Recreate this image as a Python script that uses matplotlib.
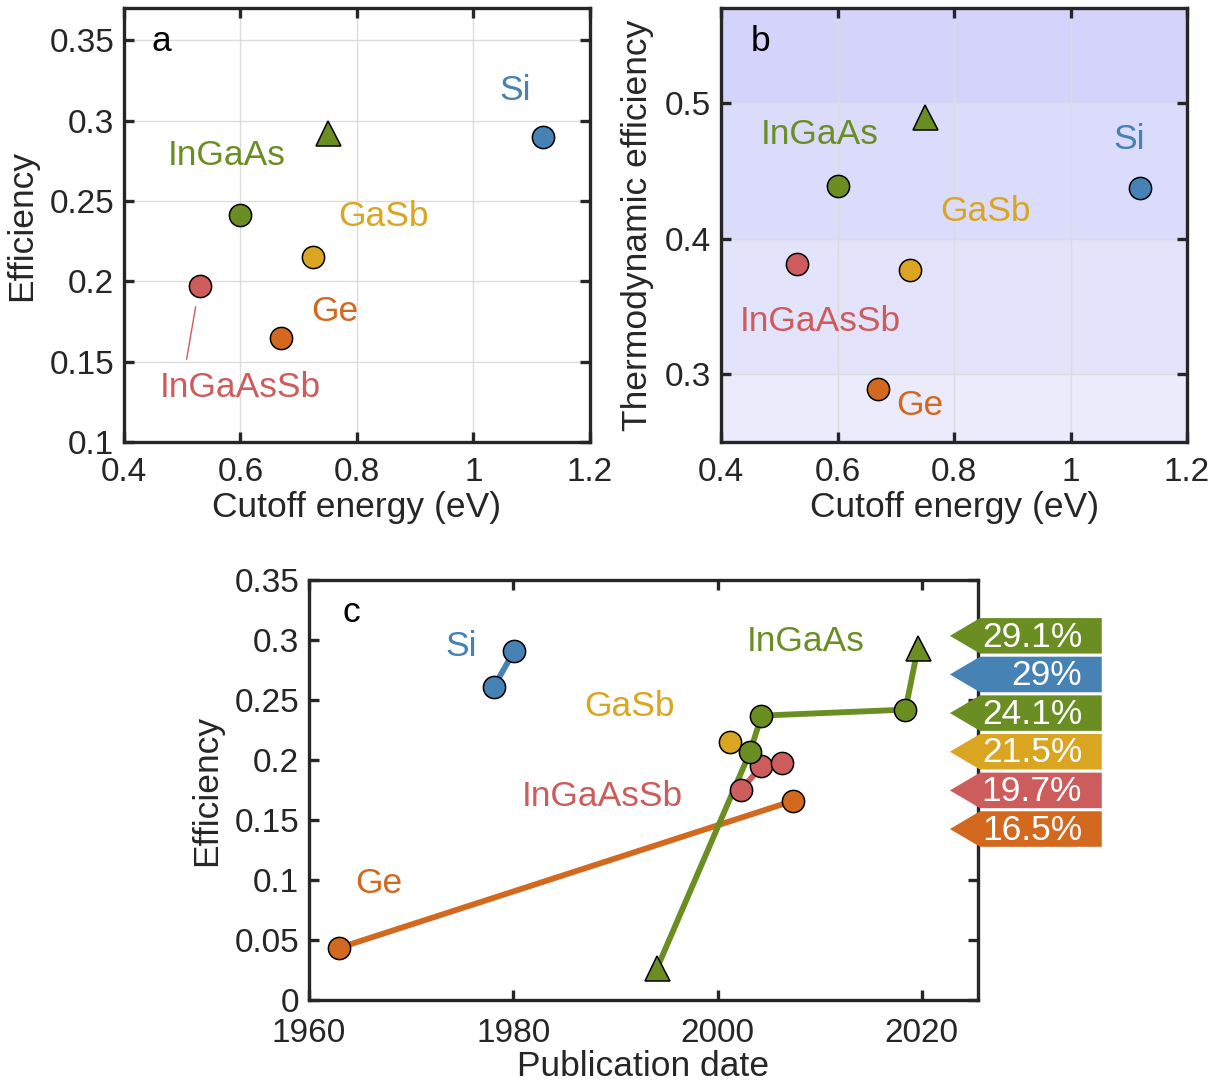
import matplotlib
matplotlib.use("Agg")
import matplotlib.pyplot as plt
import matplotlib.transforms as mtransforms

plt.rcParams['font.family'] = ['Liberation Sans', 'DejaVu Sans']

# colours
GREEN = '#6b8e23'
BLUE = '#4682b4'
GOLD = '#daa520'
PINK = '#cd5c5c'
ORANGE = '#d2691e'

# panel a / b : cutoff energy (eV)
cutoff_ingaas_c = 0.60
cutoff_ingaas_t = 0.75
cutoff_si = 1.12
cutoff_gasb = 0.725
cutoff_ingaassb = 0.53
cutoff_ge = 0.67

# panel a : efficiency
eff_a_ingaas_c = 0.241
eff_a_ingaas_t = 0.292
eff_a_si = 0.290
eff_a_gasb = 0.215
eff_a_ingaassb = 0.197
eff_a_ge = 0.165

# panel b : thermodynamic efficiency
eff_b_ingaas_c = 0.439
eff_b_ingaas_t = 0.490
eff_b_si = 0.437
eff_b_gasb = 0.377
eff_b_ingaassb = 0.381
eff_b_ge = 0.289

# panel c : publication date vs efficiency
si_year = [1978.1, 1980.1]
si_eff = [0.261, 0.291]
gasb_year = [2001.2]
gasb_eff = [0.215]
ingaas_year = [1994.1, 2003.2, 2004.3, 2018.4, 2019.6]
ingaas_eff = [0.027, 0.207, 0.237, 0.242, 0.293]
ingaassb_year = [2002.3, 2004.3, 2006.3]
ingaassb_eff = [0.175, 0.195, 0.1975]
ge_year = [1962.9, 2007.4]
ge_eff = [0.0433, 0.166]

# record tags on the right of panel c
tag_values = [29.1, 29, 24.1, 21.5, 19.7, 16.5]
tag_colors = [GREEN, BLUE, GREEN, GOLD, PINK, ORANGE]

TICK_FS = 24
AXLABEL_FS = 25.5
LABEL_FS = 25.5
MS = 16


def style_axes(ax, grid=True, xpad=11):
    for s in ax.spines.values():
        s.set_linewidth(2.4)
        s.set_color('#262626')
    ax.tick_params(direction='in', length=7, width=2.4, labelsize=TICK_FS,
                   top=True, right=True, color='#262626', labelcolor='#262626')
    ax.tick_params(axis='x', pad=xpad)
    ax.tick_params(axis='y', pad=7)
    if grid:
        ax.grid(True, color='#dcdcdc', linewidth=1.0)
        ax.set_axisbelow(True)


def circle(ax, x, y, c):
    ax.plot(x, y, 'o', ms=MS, mfc=c, mec='black', mew=1.1, zorder=4)


def tri(ax, x, y, c):
    ax.plot(x, y, '^', ms=MS + 2, mfc=c, mec='black', mew=1.1, zorder=4)


def label(ax, x, y, s, c):
    ax.text(x, y, s, color=c, fontsize=LABEL_FS, ha='center', va='center')


fig = plt.figure(figsize=(12.14, 10.87), dpi=100)

# ---------------- panel a ----------------
ax1 = fig.add_axes([0.1021, 0.5934, 0.3839, 0.3992])
style_axes(ax1)
ax1.plot([0.523, 0.5076], [0.184, 0.1516], color=PINK, lw=1.0)
circle(ax1, cutoff_ingaassb, eff_a_ingaassb, PINK)
circle(ax1, cutoff_ingaas_c, eff_a_ingaas_c, GREEN)
circle(ax1, cutoff_ge, eff_a_ge, ORANGE)
circle(ax1, cutoff_gasb, eff_a_gasb, GOLD)
tri(ax1, cutoff_ingaas_t, eff_a_ingaas_t, GREEN)
circle(ax1, cutoff_si, eff_a_si, BLUE)
label(ax1, 1.071, 0.319, 'Si', BLUE)
label(ax1, 0.577, 0.278, 'InGaAs', GREEN)
label(ax1, 0.846, 0.240, 'GaSb', GOLD)
label(ax1, 0.762, 0.181, 'Ge', ORANGE)
label(ax1, 0.599, 0.1336, 'InGaAsSb', PINK)
label(ax1, 0.465, 0.349, 'a', 'black')
ax1.set_xlim(0.4, 1.2)
ax1.set_ylim(0.1, 0.37)
ax1.set_xticks([0.4, 0.6, 0.8, 1.0, 1.2])
ax1.set_xticklabels(['0.4', '0.6', '0.8', '1', '1.2'])
ax1.set_yticks([0.1, 0.15, 0.2, 0.25, 0.3, 0.35])
ax1.set_yticklabels(['0.1', '0.15', '0.2', '0.25', '0.3', '0.35'])
ax1.set_xlabel('Cutoff energy (eV)', fontsize=AXLABEL_FS, color='#262626', labelpad=2)
ax1.set_ylabel('Efficiency', fontsize=AXLABEL_FS, color='#262626', labelpad=8)

# ---------------- panel b ----------------
ax2 = fig.add_axes([0.594, 0.5934, 0.3838, 0.3992])
style_axes(ax2)
band_edges = [0.25, 0.3, 0.4, 0.5, 0.57]
band_colors = ['#ebebfc', '#e3e3fc', '#dbdbfc', '#d3d3fc']
for lo, hi, bc in zip(band_edges[:-1], band_edges[1:], band_colors):
    ax2.axhspan(lo, hi, color=bc, lw=0, zorder=0)
circle(ax2, cutoff_ingaassb, eff_b_ingaassb, PINK)
circle(ax2, cutoff_ingaas_c, eff_b_ingaas_c, GREEN)
circle(ax2, cutoff_ge, eff_b_ge, ORANGE)
circle(ax2, cutoff_gasb, eff_b_gasb, GOLD)
tri(ax2, cutoff_ingaas_t, eff_b_ingaas_t, GREEN)
circle(ax2, cutoff_si, eff_b_si, BLUE)
label(ax2, 1.101, 0.473, 'Si', BLUE)
label(ax2, 0.570, 0.477, 'InGaAs', GREEN)
label(ax2, 0.854, 0.420, 'GaSb', GOLD)
label(ax2, 0.741, 0.277, 'Ge', ORANGE)
label(ax2, 0.570, 0.339, 'InGaAsSb', PINK)
label(ax2, 0.467, 0.545, 'b', 'black')
ax2.set_xlim(0.4, 1.2)
ax2.set_ylim(0.25, 0.57)
ax2.set_xticks([0.4, 0.6, 0.8, 1.0, 1.2])
ax2.set_xticklabels(['0.4', '0.6', '0.8', '1', '1.2'])
ax2.set_yticks([0.3, 0.4, 0.5])
ax2.set_yticklabels(['0.3', '0.4', '0.5'])
ax2.set_xlabel('Cutoff energy (eV)', fontsize=AXLABEL_FS, color='#262626', labelpad=2)
ax2.set_ylabel('Thermodynamic efficiency', fontsize=AXLABEL_FS, color='#262626', labelpad=8)

# ---------------- panel c ----------------
ax3 = fig.add_axes([0.2545, 0.08, 0.5511, 0.3864])
style_axes(ax3, grid=False, xpad=13)
LW = 4.2
ax3.plot(ge_year, ge_eff, color=ORANGE, lw=LW, zorder=2)
ax3.plot(si_year, si_eff, color=BLUE, lw=LW, zorder=2)
ax3.plot(ingaassb_year, ingaassb_eff, color=PINK, lw=LW, zorder=2)
for x, y in zip(ingaassb_year, ingaassb_eff):
    circle(ax3, x, y, PINK)
ax3.plot(ingaas_year, ingaas_eff, color=GREEN, lw=LW, zorder=3)
for x, y in zip(gasb_year, gasb_eff):
    circle(ax3, x, y, GOLD)
for i, (x, y) in enumerate(zip(ingaas_year, ingaas_eff)):
    if i in (0, len(ingaas_year) - 1):
        tri(ax3, x, y, GREEN)
    else:
        circle(ax3, x, y, GREEN)
for x, y in zip(si_year, si_eff):
    circle(ax3, x, y, BLUE)
for x, y in zip(ge_year, ge_eff):
    circle(ax3, x, y, ORANGE)
label(ax3, 1974.9, 0.295, 'Si', BLUE)
label(ax3, 1991.4, 0.245, 'GaSb', GOLD)
label(ax3, 2008.6, 0.299, 'InGaAs', GREEN)
label(ax3, 1988.7, 0.170, 'InGaAsSb', PINK)
label(ax3, 1966.8, 0.0975, 'Ge', ORANGE)
label(ax3, 1964.2, 0.323, 'c', 'black')
ax3.set_xlim(1960, 2025.5)
ax3.set_ylim(0, 0.35)
ax3.set_xticks([1960, 1980, 2000, 2020])
ax3.set_yticks([0, 0.05, 0.1, 0.15, 0.2, 0.25, 0.3, 0.35])
ax3.set_yticklabels(['0', '0.05', '0.1', '0.15', '0.2', '0.25', '0.3', '0.35'])
ax3.set_xlabel('Publication date', fontsize=AXLABEL_FS, color='#262626', labelpad=1)
ax3.set_ylabel('Efficiency', fontsize=AXLABEL_FS, color='#262626', labelpad=8)

# record tags
trans = mtransforms.blended_transform_factory(ax3.transAxes, ax3.transData)
tag_top = 0.3035
tag_step = 0.0322
half_h = 0.0148
x_tip, x_base, x_end = 0.958, 1.003, 1.185
for i, (v, c) in enumerate(zip(tag_values, tag_colors)):
    yc = tag_top - i * tag_step
    xs = [x_tip, x_base, x_end, x_end, x_base]
    ys = [yc, yc + half_h, yc + half_h, yc - half_h, yc - half_h]
    ax3.fill(xs, ys, color=c, transform=trans, clip_on=False, zorder=6, lw=0)
    ax3.text(1.1555, yc - 0.001, f'{v:g}%', color='white', fontsize=LABEL_FS,
             ha='right', va='center', transform=trans, clip_on=False, zorder=7)

fig.savefig('out.png', dpi=100)
